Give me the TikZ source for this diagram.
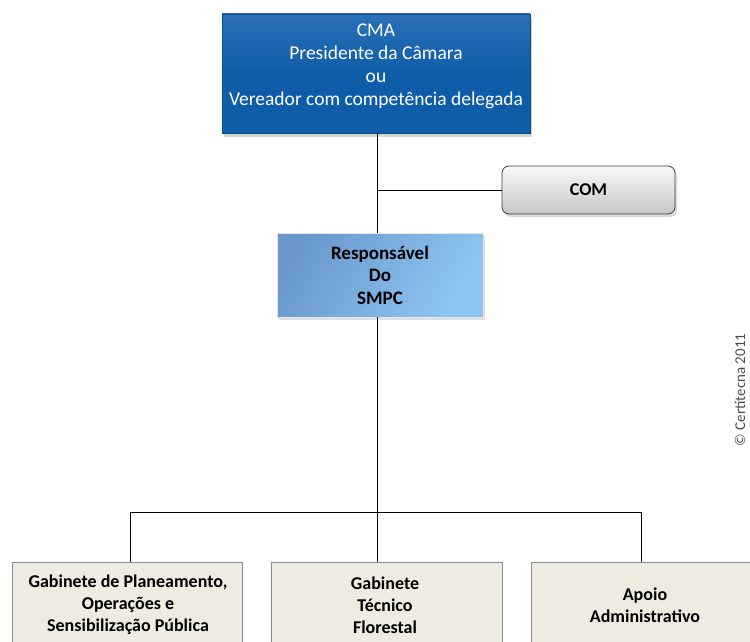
\documentclass[tikz,border=0pt]{standalone}
\usepackage{fontspec}
\setmainfont{Carlito}
\usetikzlibrary{shadows}
\definecolor{cmablue}{HTML}{0F5DA8}
\definecolor{cmadark}{HTML}{0A4A8A}
\definecolor{cmatop}{HTML}{2B70B8}
\definecolor{respL}{HTML}{6A98CE}
\definecolor{respR}{HTML}{8EC5F2}
\definecolor{beige}{HTML}{EEEBE0}
\definecolor{boxline}{HTML}{8C8C8C}
\tikzset{
  every node/.style={inner sep=0pt, align=center},
  cmabox/.style={draw=cmadark, line width=0.8pt, top color=cmatop, bottom color=cmablue, middle color=cmablue,
     minimum width=308pt, minimum height=119pt,
     drop shadow={shadow xshift=2pt, shadow yshift=-4pt, opacity=0.35}},
  cmatext/.style={text=white, font=\fontsize{19.5}{23}\selectfont},
  combox/.style={draw=black!75, line width=0.8pt, rounded corners=7pt, top color=white!95!gray, bottom color=black!22,
     minimum width=173pt, minimum height=48pt, font=\fontsize{18}{20}\selectfont\bfseries,
     drop shadow={shadow xshift=2pt, shadow yshift=-3pt, opacity=0.3}},
  respbox/.style={draw=white!80!gray, line width=0.6pt, shading=axis, left color=respL, right color=respR, shading angle=60,
     minimum width=206pt, minimum height=84pt, font=\fontsize{19}{22.5}\selectfont\bfseries,
     drop shadow={shadow xshift=1.5pt, shadow yshift=-2.5pt, opacity=0.25}},
  unitbox/.style={draw=boxline, line width=0.8pt, fill=beige, minimum height=110pt, anchor=north},
  unittext/.style={font=\fontsize{18}{22}\selectfont\bfseries},
  link/.style={draw=black, line width=0.8pt}
}
\begin{document}
\begin{tikzpicture}[x=1pt,y=-1pt]
\useasboundingbox (0,0) rectangle (750,642);
\clip (0,0) rectangle (750,642);
\node[cmabox] (cma) at (376,73.5) {};
\node[cmatext] (cmat) at (376,66) {CMA\\Presidente da Câmara\\ou\\Vereador com competência delegada};
\node[combox] (com) at (588.5,190) {COM};
\node[respbox] (resp) at (380,275) {Responsável\\Do\\SMPC};
\coordinate (j1) at (377,190);
\coordinate (hub) at (377,512);
\coordinate (hl) at (130,512);
\coordinate (hr) at (641,512);
\node[unitbox, minimum width=230pt] (gp) at (127,562) {};
\node[unitbox, minimum width=231pt] (gt) at (386.5,562) {};
\node[unitbox, minimum width=240pt] (aa) at (651,562) {};
\node[unittext] (gpt) at (128,605) {Gabinete de Planeamento,\\Operações e\\Sensibilização Pública};
\node[unittext] (gtt) at (385,605) {Gabinete\\Técnico\\Florestal};
\node[unittext] (aat) at (645,605) {Apoio\\Administrativo};
\draw[link] (cma.south -| j1) -- (resp.north -| j1);
\draw[link] (j1) -- (com.west);
\draw[link] (resp.south -| hub) -- (hub);
\draw[link] (hl) -- (hr);
\draw[link] (hl) -- (gp.north -| hl);
\draw[link] (hub) -- (gt.north -| hub);
\draw[link] (hr) -- (aa.north -| hr);
\node[rotate=90, text=black!70, font=\fontsize{15}{17}\selectfont] (copy) at (740,390) {© Certitecna 2011};
\end{tikzpicture}
\end{document}
